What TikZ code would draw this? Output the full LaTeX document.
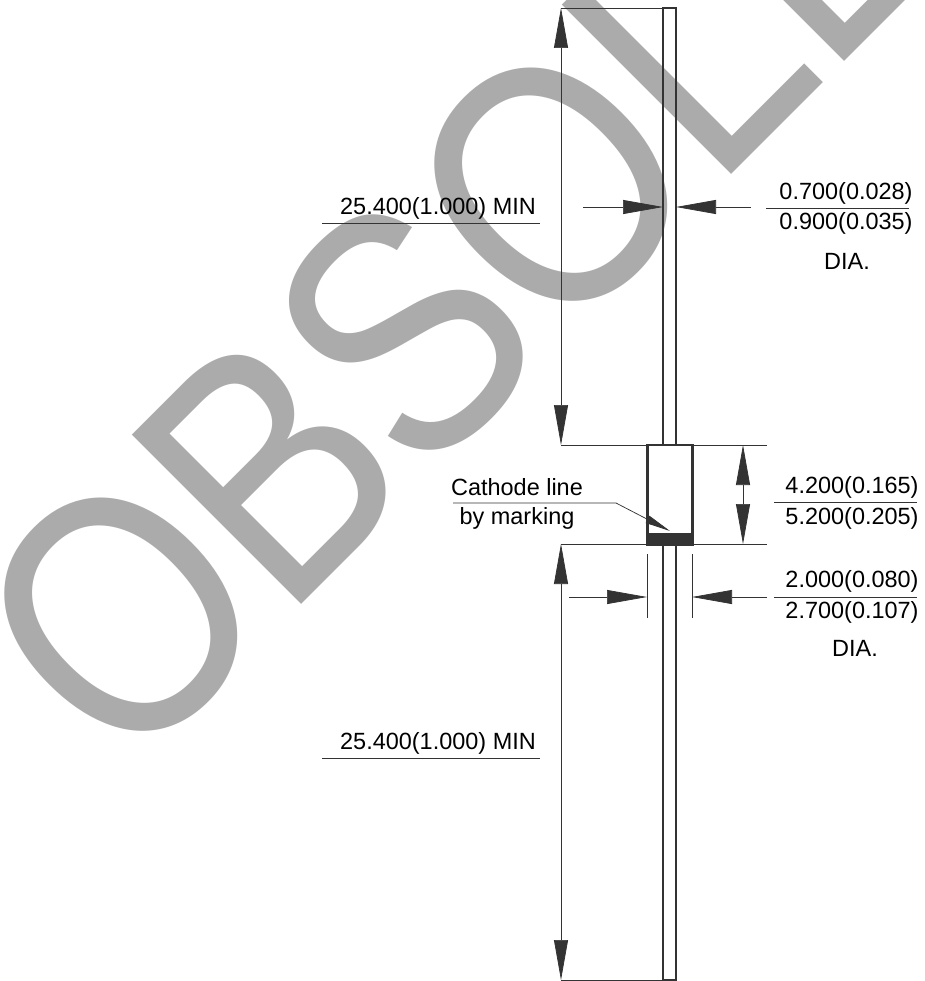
\documentclass[tikz,border=0pt]{standalone}
\usepackage{fontspec}
\setmainfont{Liberation Sans}
\newfontfamily\stampfont[LetterSpace=-1.5]{Liberation Sans}
\usetikzlibrary{arrows.meta}
\definecolor{stampgray}{HTML}{ABABAB}
\definecolor{inkdark}{HTML}{333333}
\tikzset{
	dimtip/.tip={Triangle[length=30pt,width=10.5pt]},
	thinline/.style={draw=inkdark, line width=0.55pt},
	outline/.style={draw=inkdark, line width=1.6pt},
	dimlabel/.style={inner sep=0pt, font=\fontsize{17.6}{18}\selectfont, text=black},
}

\begin{document}
\begin{tikzpicture}[x=0.75pt, y=-0.75pt]
		\useasboundingbox (0, 0) rectangle (924, 981);
		% watermark
		\node[anchor=base west, transform shape, rotate=45, xscale=0.88, yscale=1.04, inner sep=0pt, text=stampgray, font=\fontsize{251}{251}\stampfont] (stamp) at (125, 781) {OBSOLETE};
		% leads and body
		\draw[outline] (663, 8) rectangle (676, 445);
		\draw[outline] (663, 545) rectangle (676, 980);
		\draw[outline] (647.5, 445) rectangle (692.5, 545);
		\filldraw[inkdark] (647, 533) rectangle (693, 545.5);
		% extension lines
		\draw[thinline] (561, 8) -- (663, 8);
		\draw[thinline] (561, 445) -- (767, 445);
		\draw[thinline] (561, 544) -- (767, 544);
		\draw[thinline] (561, 980) -- (663, 980);
		\draw[thinline] (647, 554) -- (647, 618);
		\draw[thinline] (692, 554) -- (692, 618);
		% dimension lines
		\draw[thinline, dimtip-dimtip] (561, 8) -- (561, 445);
		\draw[thinline, dimtip-dimtip] (561, 544) -- (561, 980);
		\draw[thinline, dimtip-dimtip] (743, 445) -- (743, 544);
		\draw[thinline, -dimtip] (583, 207) -- (663, 207);
		\draw[thinline, -dimtip] (751, 207) -- (676, 207);
		\draw[thinline, -dimtip] (569, 597) -- (647, 597);
		\draw[thinline, -dimtip] (767, 597) -- (692, 597);
		% fraction rules
		\draw[thinline] (322, 223) -- (540, 223);
		\draw[thinline] (322, 758) -- (540, 758);
		\draw[thinline] (766, 208) -- (909, 208);
		\draw[thinline] (774, 502) -- (917, 502);
		\draw[thinline] (774, 597) -- (917, 597);
		\draw[thinline, -{Triangle[length=19pt,width=6pt]}] (453, 503) -- (616, 503) -- (670, 531);
		% labels
		\node[dimlabel] (leadtop) at (438, 208) {25.400(1.000) MIN};
		\node[dimlabel] (leadbot) at (438, 743) {25.400(1.000) MIN};
		\node[dimlabel] (wiremin) at (846, 193) {0.700(0.028)};
		\node[dimlabel] (wiremax) at (846, 223) {0.900(0.035)};
		\node[dimlabel] (wiredia) at (847, 261) {DIA.};
		\node[dimlabel] (bodymin) at (852, 487) {4.200(0.165)};
		\node[dimlabel] (bodymax) at (852, 518) {5.200(0.205)};
		\node[dimlabel] (widemin) at (852, 581) {2.000(0.080)};
		\node[dimlabel] (widemax) at (852, 612) {2.700(0.107)};
		\node[dimlabel] (widedia) at (855, 648) {DIA.};
		\node[dimlabel] (cathode) at (517, 487) {Cathode line};
		\node[dimlabel] (marking) at (517, 518) {by marking};
	\end{tikzpicture}
\end{document}
